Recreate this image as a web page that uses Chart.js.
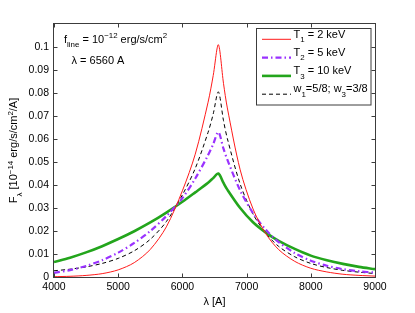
<!DOCTYPE html>
<html>
<head>
<meta charset="utf-8">
<script src="https://cdn.jsdelivr.net/npm/chart.js@4"></script>
<style>
html,body{margin:0;padding:0;background:#fff;}
canvas{display:block;}
</style>
</head>
<body>
<canvas id="c" width="415" height="313"></canvas>
<script>
// wavelengths [A]
const lambda = [4000,4250,4500,4750,5000,5250,5500,5750,6000,6200,6400,6480,6560,6640,6700,6900,7100,7300,7500,7750,8000,8250,8500,8750,9000];
// F_lambda [1e-14 erg/s/cm^2/A]
const fluxT1 = [0.00014,0.00031,0.00069,0.00146,0.0031,0.00625,0.012,0.0218,0.0375,0.0534,0.076,0.0876,0.101,0.0842,0.0735,0.0466,0.0296,0.0188,0.0119,0.0068,0.0038,0.0022,0.0012,0.0007,0.0004];
const fluxT2 = [0.0018,0.0030,0.0048,0.0073,0.0106,0.0148,0.0200,0.0265,0.0343,0.0428,0.053,0.0578,0.063,0.0558,0.051,0.0376,0.0278,0.0205,0.0152,0.0104,0.0071,0.0049,0.0034,0.0025,0.0019];
const fluxT3 = [0.0065,0.0084,0.0107,0.0134,0.0165,0.0199,0.0237,0.0280,0.0327,0.0368,0.041,0.043,0.045,0.0409,0.038,0.030,0.0238,0.0193,0.0157,0.0122,0.0093,0.0073,0.0057,0.0044,0.0034];
const fluxMix = [0.0027,0.0034,0.0044,0.0059,0.0081,0.0114,0.0164,0.0241,0.0357,0.0472,0.0629,0.0709,0.0805,0.068,0.0602,0.0404,0.0274,0.019,0.0133,0.0088,0.0059,0.0041,0.0029,0.0021,0.0015];

const seriesNames = ['T1 = 2 keV','T2 = 5 keV','T3 = 10 keV','w1=5/8; w3=3/8'];

const FONT = "'Liberation Sans', Arial, Helvetica, sans-serif";
const COLORS = {t1:'#ff1a1a', t2:'#9a32ff', t3:'#23a51c', mix:'#000000'};
const STYLES = [
  {color:COLORS.t1, width:1, dash:[]},
  {color:COLORS.t2, width:2.2, dash:[6,3,1.5,3]},
  {color:COLORS.t3, width:2.6, dash:[]},
  {color:COLORS.mix, width:1, dash:[4,3]}
];
const allFlux = [fluxT1, fluxT2, fluxT3, fluxMix];

function pts(arr){ return lambda.map((l,i)=>({x:l,y:arr[i]})); }

function setFont(ctx, size){ ctx.font = size + 'px ' + FONT; }
function richWidth(ctx, parts, size){
  let w = 0;
  for (const [t,m] of parts){ setFont(ctx, m ? size*0.72 : size); w += ctx.measureText(t).width; }
  return w;
}
function drawRich(ctx, x, y, parts, size){
  let cx = x;
  for (const [t,m] of parts){
    const s = m ? size*0.72 : size;
    setFont(ctx, s);
    const dy = m === 1 ? 4.5 : (m === -1 ? -4.5 : 0);
    ctx.fillText(t, cx, y + dy);
    cx += ctx.measureText(t).width;
  }
}

const legendParts = [
  [['T',0],['1',1],[' = 2 keV',0]],
  [['T',0],['2',1],[' = 5 keV',0]],
  [['T',0],['3',1],[' = 10 keV',0]],
  [['w',0],['1',1],['=5/8; w',0],['3',1],['=3/8',0]]
];

const decor = {
  id:'decor',
  afterDraw(chart){
    const {ctx, chartArea:a, scales:{x, y}} = chart;
    ctx.save();
    ctx.strokeStyle = '#3c3c3c';
    ctx.lineWidth = 1;
    ctx.setLineDash([]);
    const L = a.left - 0.5, R = a.right + 0.5, T = a.top - 0.5, B = a.bottom + 0.5;
    ctx.strokeRect(L, T, R - L, B - T);
    ctx.beginPath();
    const tl = 4;
    for (const t of x.ticks){
      const px = Math.round(x.getPixelForValue(t.value)) + 0.5;
      ctx.moveTo(px, B); ctx.lineTo(px, B - tl);
      ctx.moveTo(px, T); ctx.lineTo(px, T + tl);
    }
    for (const t of y.ticks){
      if (t.value > 0.105) continue;
      const py = Math.round(y.getPixelForValue(t.value)) + 0.5;
      ctx.moveTo(L, py); ctx.lineTo(L + tl, py);
      ctx.moveTo(R, py); ctx.lineTo(R - tl, py);
    }
    ctx.stroke();

    ctx.fillStyle = '#000';
    ctx.textAlign = 'left';
    ctx.textBaseline = 'alphabetic';
    drawRich(ctx, 64, 42.5, [['f',0],['line',1],[' = 10',0],['\u221212',-1],[' erg/s/cm',0],['2',-1]], 11);
    drawRich(ctx, 71.5, 63.5, [['\u03bb = 6560 A',0]], 11);

    const xt = [['\u03bb [A]',0]];
    const xw = richWidth(ctx, xt, 11);
    drawRich(ctx, (a.left + a.right)/2 - xw/2, 305, xt, 11);

    const yt = [['F',0],['\u03bb',1],[' [10',0],['\u221214',-1],[' erg/s/cm',0],['2',-1],['/A]',0]];
    const yw = richWidth(ctx, yt, 11);
    ctx.save();
    ctx.translate(17, (a.top + a.bottom)/2);
    ctx.rotate(-Math.PI/2);
    drawRich(ctx, -yw/2, 0, yt, 11);
    ctx.restore();

    const bx = 256.5, by = 28.5, bw = 114.5, bh = 76.5;
    ctx.fillStyle = '#fff';
    ctx.fillRect(bx, by, bw, bh);
    ctx.strokeStyle = '#3c3c3c';
    ctx.lineWidth = 1;
    ctx.strokeRect(bx, by, bw, bh);
    const rowY = [39.3, 57.6, 75.9, 94.2];
    for (let i = 0; i < 4; i++){
      const st = STYLES[i];
      ctx.beginPath();
      ctx.strokeStyle = st.color;
      ctx.lineWidth = st.width;
      ctx.setLineDash(st.dash);
      ctx.moveTo(262, rowY[i]);
      ctx.lineTo(291, rowY[i]);
      ctx.stroke();
      ctx.setLineDash([]);
      ctx.fillStyle = '#000';
      drawRich(ctx, 293.5, rowY[i] - 1.8, legendParts[i], 11);
    }
    ctx.restore();
  }
};

const datasets = allFlux.map((arr, i) => ({
  label: seriesNames[i],
  data: pts(arr),
  borderColor: STYLES[i].color,
  borderWidth: STYLES[i].width,
  borderDash: STYLES[i].dash,
  pointRadius: 0,
  fill: false,
  tension: 0.3
}));

new Chart(document.getElementById('c'), {
  type: 'line',
  data: { datasets },
  options: {
    responsive: false,
    animation: false,
    devicePixelRatio: 1,
    layout: { padding: { top: 24, right: 40, left: 0, bottom: 0 } },
    plugins: { legend: { display: false }, tooltip: { enabled: false } },
    scales: {
      x: {
        type: 'linear', min: 4000, max: 9000,
        ticks: { stepSize: 1000, color: '#000', font: { family: FONT, size: 10.5 }, padding: 4, maxRotation: 0,
                 callback: v => String(v) },
        grid: { display: false, drawTicks: false },
        border: { display: false },
        afterFit: s => { s.height = 36; }
      },
      y: {
        type: 'linear', min: 0, max: 0.11,
        ticks: { stepSize: 0.01, color: '#000', font: { family: FONT, size: 10.5 }, padding: 5,
                 callback: v => v > 0.105 ? '' : String(Math.round(v*100)/100) },
        grid: { display: false, drawTicks: false },
        border: { display: false },
        afterFit: s => { s.width = 54; }
      }
    }
  },
  plugins: [decor]
});
</script>
</body>
</html>
